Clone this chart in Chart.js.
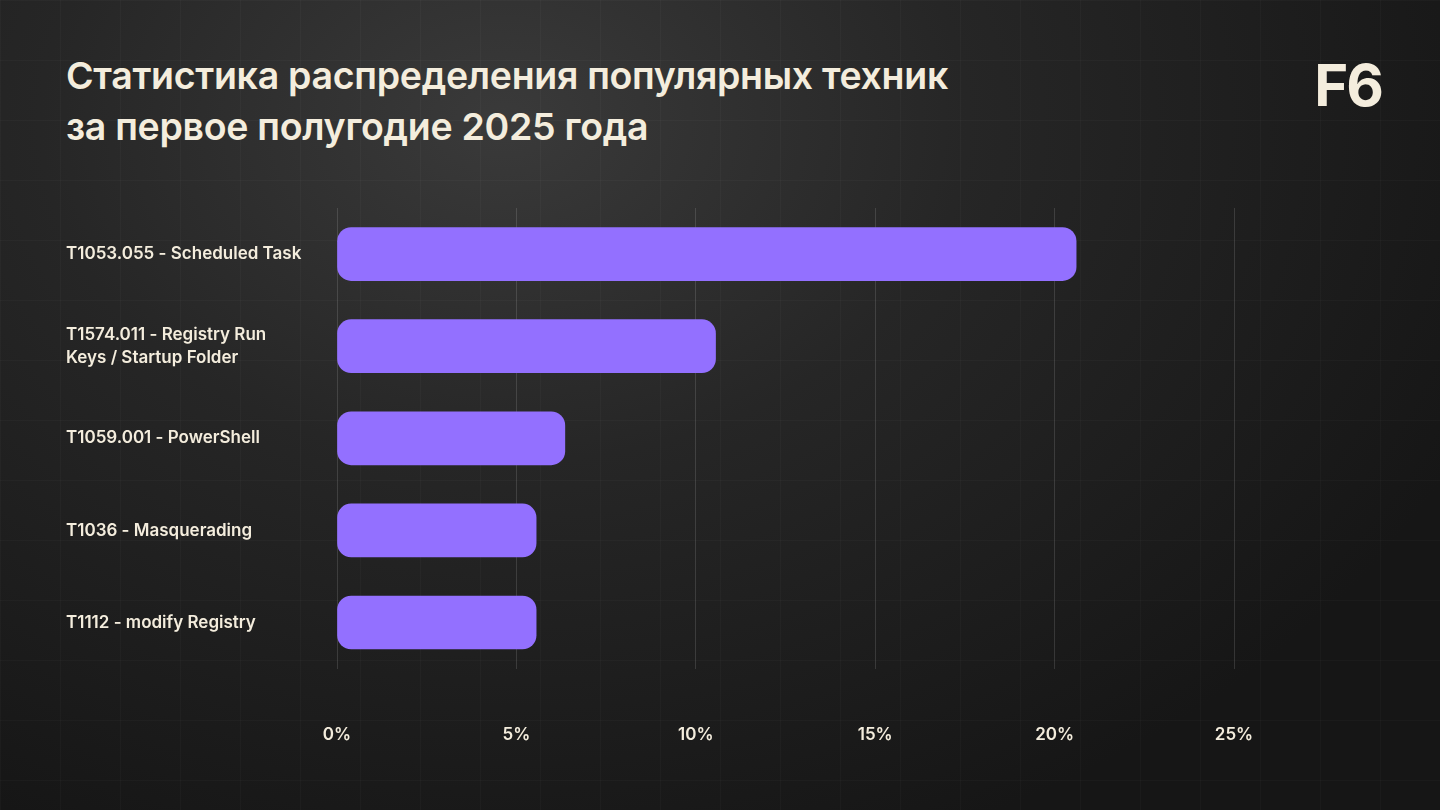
<!DOCTYPE html>
<html><head><meta charset="utf-8">
<script src="https://cdn.jsdelivr.net/npm/chart.js@4"></script>
<style>
html,body{margin:0;width:1440px;height:810px;overflow:hidden}
body{background:radial-gradient(ellipse at 35% 15%,#3a3a3a 0%,#262626 35%,#161616 80%);font-family:Inter,"Noto Sans",sans-serif;position:relative}
.grid{position:absolute;inset:0;background-image:linear-gradient(rgba(255,255,255,0.025) 1px,transparent 1px),linear-gradient(90deg,rgba(255,255,255,0.025) 1px,transparent 1px);background-size:60px 60px}
h1{position:absolute;left:66px;top:50px;margin:0;color:#f4eddd;font-size:37.5px;font-weight:600;line-height:51px;letter-spacing:-0.3px}
.logo{position:absolute;right:58px;top:50px;color:#f4eddd;font-size:58px;font-weight:700;letter-spacing:-2px}
canvas{position:absolute;left:0;top:0}
</style></head><body>
<div class="grid"></div>
<h1>Статистика распределения популярных техник<br>за первое полугодие 2025 года</h1>
<div class="logo">F6</div>
<canvas id="c" width="1440" height="810"></canvas>
<script>
const techniques = [['T1053.055 - Scheduled Task'], ['T1574.011 - Registry Run', 'Keys / Startup Folder'], ['T1059.001 - PowerShell'], ['T1036 - Masquerading'], ['T1112 - modify Registry']];
const shares = [20.6, 10.55, 6.35, 5.55, 5.55];
const xTicks = [0, 5, 10, 15, 20, 25];

new Chart(document.getElementById('c'), {
  type: 'bar',
  data: {
    labels: techniques,
    datasets: [{
      data: shares,
      backgroundColor: '#9370ff',
      borderRadius: 14,
      borderSkipped: false,
      barThickness: 53
    }]
  },
  options: {
    indexAxis: 'y',
    responsive: false,
    animation: false,
    layout: { padding: { left: 66, right: 206, top: 208, bottom: 9 } },
    plugins: { legend: { display: false }, tooltip: { enabled: false } },
    scales: {
      x: {
        min: 0, max: 25,
        afterBuildTicks: s => { s.ticks = xTicks.map(v => ({ value: v })); },
        ticks: { color: '#f4eddd', font: { family: 'Inter', size: 17, weight: '600' }, padding: 56, callback: v => v + '%' },
        grid: { color: 'rgba(255,255,255,0.13)', drawTicks: false },
        border: { display: false }
      },
      y: {
        afterFit: s => { s.width = 271; },
        ticks: { color: '#f4eddd', crossAlign: 'far', font: { family: 'Inter', size: 17, weight: '600', lineHeight: 1.35 }, padding: 0 },
        grid: { display: false },
        border: { display: false }
      }
    }
  }
});
</script>
</body></html>
